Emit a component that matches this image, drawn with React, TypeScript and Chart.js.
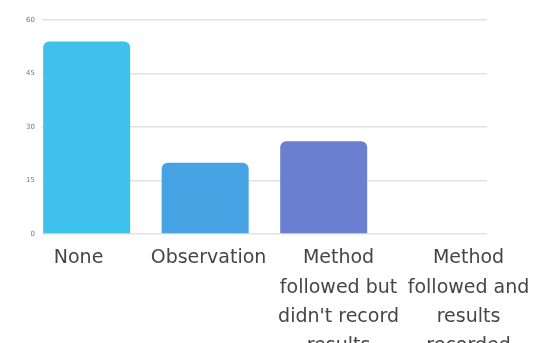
import React, { useEffect, useRef } from "react";
import { Chart, registerables } from "chart.js";

Chart.register(...registerables);

// Category labels, wrapped into lines
const categories: string[][] = [
  ["None"],
  ["Observation"],
  ["Method", "followed but", "didn't record", "results"],
  ["Method", "followed and", "results", "recorded"],
];

const counts: number[] = [54, 20, 26, 0];

const barColors: string[] = ["#3ec2eb", "#47a2e4", "#6b7fd0"];

const yTicks: number[] = [0, 15, 30, 45, 60];

const W = 537;
const H = 380;

const categoryTicks = (s: any) => {
  s.ticks = categories.map((_, i) => ({ value: i }));
};

export default function App() {
  const ref = useRef<HTMLCanvasElement | null>(null);

  useEffect(() => {
    const canvas = ref.current;
    if (!canvas) return;
    const chart = new Chart(canvas, {
      type: "bar",
      data: {
        datasets: [
          {
            data: counts.map((v, i) => ({ x: i, y: v })),
            backgroundColor: barColors,
            borderRadius: 6,
            borderSkipped: "start",
            barPercentage: 0.734,
            categoryPercentage: 1,
            xAxisID: "x",
          },
        ],
      },
      options: {
        responsive: false,
        animation: false,
        layout: { padding: { top: 20, right: 50, left: 0, bottom: 0 } },
        plugins: { legend: { display: false }, tooltip: { enabled: false } },
        scales: {
          // axis the bars are placed on
          x: {
            type: "linear",
            display: false,
            offset: false,
            bounds: "data",
            min: -0.377,
            max: 3.378,
            afterBuildTicks: categoryTicks,
            grid: { display: false, offset: false },
          },
          // axis carrying the wrapped category labels
          xl: {
            type: "linear",
            position: "bottom",
            offset: false,
            bounds: "data",
            min: -0.281,
            max: 3.142,
            grid: { display: false, offset: false },
            border: { display: false },
            afterBuildTicks: categoryTicks,
            afterFit: (s: any) => {
              s.height = H - 234;
            },
            ticks: {
              autoSkip: false,
              maxRotation: 0,
              padding: 2,
              color: "#454545",
              font: { family: "DejaVu Sans", size: 19, lineHeight: 1.53 },
              callback: (v: any) => categories[Number(v)] ?? "",
            },
          },
          y: {
            min: 0,
            max: 60,
            afterBuildTicks: (s: any) => {
              s.ticks = yTicks.map((v) => ({ value: v }));
            },
            afterFit: (s: any) => {
              s.width = 42;
            },
            border: { display: false },
            grid: { color: "#e2e2e2", lineWidth: 1.5, drawTicks: false },
            ticks: {
              padding: 7,
              color: "#777",
              font: { family: "DejaVu Sans", size: 7 },
            },
          },
        },
      },
    });
    return () => chart.destroy();
  }, []);

  return (
    <div style={{ position: "fixed", left: 0, top: 0, width: W, height: H, background: "#fff" }}>
      <canvas ref={ref} width={W} height={H} style={{ display: "block" }} />
    </div>
  );
}
